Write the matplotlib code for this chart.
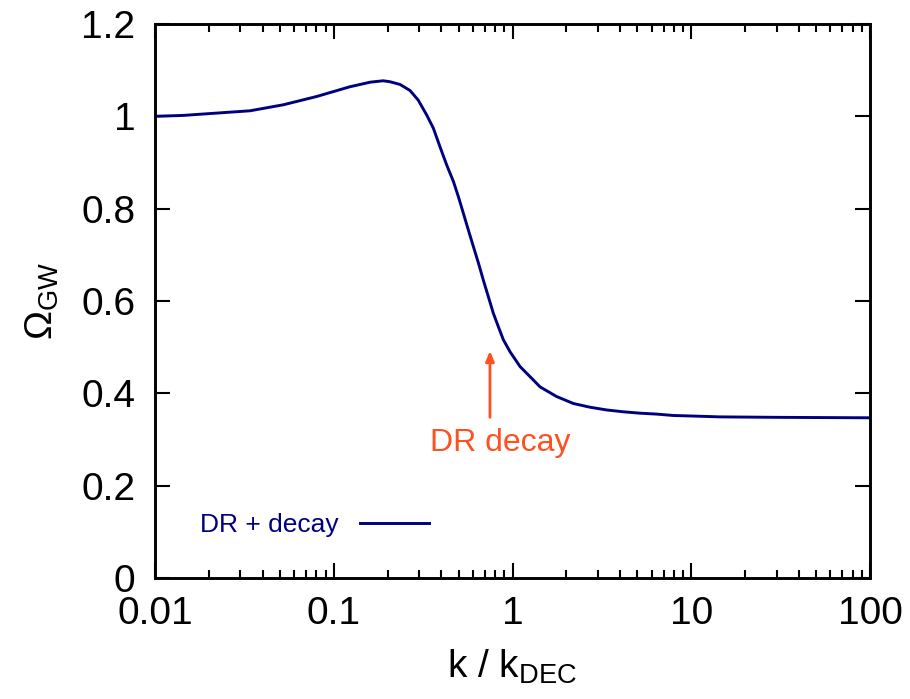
import matplotlib
matplotlib.use("Agg")
import matplotlib.pyplot as plt
from matplotlib.ticker import FixedLocator, LogLocator, NullFormatter

plt.rcParams['font.family'] = ['Liberation Sans', 'DejaVu Sans']
plt.rcParams['mathtext.fontset'] = 'custom'
plt.rcParams['mathtext.rm'] = 'Liberation Sans'
plt.rcParams['mathtext.it'] = 'Liberation Sans'

# GW spectrum with dark radiation + decay, normalised to its low-k value
k_over_kdec = [0.01, 0.0144, 0.0221, 0.034, 0.0522, 0.0803, 0.123, 0.160,
               0.189, 0.206, 0.235, 0.267, 0.297, 0.331, 0.361, 0.393,
               0.428, 0.467, 0.498, 0.531, 0.566, 0.604, 0.645, 0.687, 0.733,
               0.782, 0.834, 0.889, 0.969, 1.102, 1.307, 1.426, 1.766, 2.19,
               2.71, 3.36, 4.17, 5.17, 6.41, 7.94, 9.84, 14.5, 30.0, 100.0]
omega_gw = [1.0, 1.002, 1.007, 1.012, 1.025, 1.043, 1.064, 1.074,
            1.077, 1.075, 1.069, 1.056, 1.035, 1.003, 0.974, 0.934,
            0.895, 0.859, 0.826, 0.790, 0.754, 0.718, 0.682, 0.645, 0.609,
            0.573, 0.544, 0.516, 0.490, 0.458, 0.429, 0.414, 0.393, 0.378,
            0.370, 0.364, 0.360, 0.357, 0.355, 0.352, 0.351, 0.349, 0.348, 0.347]

x_ticks = [0.01, 0.1, 1, 10, 100]
x_tick_labels = ["0.01", "0.1", "1", "10", "100"]
y_ticks = [0, 0.2, 0.4, 0.6, 0.8, 1.0, 1.2]
y_tick_labels = ["0", "0.2", "0.4", "0.6", "0.8", "1", "1.2"]

arrow_k = 0.748
arrow_tip, arrow_tail = 0.498, 0.342

navy = "#00007f"
orange = "#ff5020"

fig = plt.figure(figsize=(9.10, 6.99), dpi=100)
ax = fig.add_axes([155 / 910, 121 / 699, 715 / 910, 554 / 699])

ax.plot(k_over_kdec, omega_gw, color=navy, lw=2.1, label="DR + decay",
        solid_joinstyle="round")

ax.set_xscale("log")
ax.set_xlim(0.01, 100)
ax.set_ylim(0, 1.2)
ax.xaxis.set_major_locator(FixedLocator(x_ticks))
ax.set_xticklabels(x_tick_labels)
ax.xaxis.set_minor_locator(LogLocator(base=10, subs=range(2, 10)))
ax.xaxis.set_minor_formatter(NullFormatter())
ax.set_yticks(y_ticks)
ax.set_yticklabels(y_tick_labels)

for s in ax.spines.values():
    s.set_linewidth(2.1)
ax.tick_params(which="both", direction="in", top=True, right=True,
               labelsize=28, width=1.5)
ax.tick_params(which="major", length=11)
ax.tick_params(axis="y", which="major", pad=14)
ax.tick_params(axis="x", which="major", pad=13)
ax.tick_params(which="minor", length=6)

ax.set_xlabel(r"k / k$_{\mathrm{DEC}}$", fontsize=28, labelpad=11)
ax.set_ylabel(r"$\Omega_{\mathrm{GW}}$", fontsize=28, labelpad=15)

ax.annotate("", xy=(arrow_k, arrow_tip), xytext=(arrow_k, arrow_tail),
            arrowprops=dict(arrowstyle="-|>,head_length=0.6,head_width=0.25",
                            color=orange, lw=2))
ax.text(0.85, 0.292, "DR decay", color=orange, fontsize=23,
        ha="center", va="center")

leg = ax.legend(loc="lower left", bbox_to_anchor=(0.03, 0.031), frameon=False,
                markerfirst=False, fontsize=19, handlelength=2.6,
                labelcolor=navy, handletextpad=0.8)

fig.savefig("out.png", dpi=100)
